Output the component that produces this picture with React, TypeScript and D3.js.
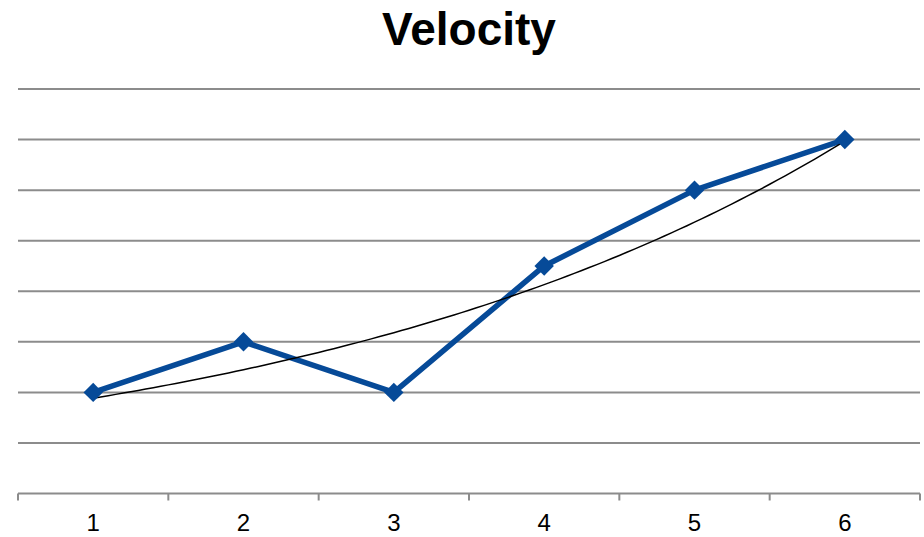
import React, { useRef, useEffect } from 'react';
import * as d3 from 'd3';

const categories = ['1', '2', '3', '4', '5', '6'];
const velocity = [2, 3, 2, 4.5, 6, 7];
const yTicks = [1, 2, 3, 4, 5, 6, 7, 8];

const width = 924;
const height = 537;

// exponential trendline fitted the way the spreadsheet does it (least squares on ln y)
function expTrend(xs: number[], ys: number[]) {
  const ly = ys.map(v => Math.log(v));
  const mx = d3.mean(xs) as number;
  const my = d3.mean(ly) as number;
  const sxy = d3.sum(xs, (x, i) => (x - mx) * (ly[i] - my));
  const sxx = d3.sum(xs, x => (x - mx) * (x - mx));
  const b = sxy / sxx;
  const a = Math.exp(my - b * mx);
  return (x: number) => a * Math.exp(b * x);
}

const App = () => {
  const svgRef = useRef<SVGSVGElement>(null);

  useEffect(() => {
    const svg = d3.select(svgRef.current);
    svg.selectAll('*').remove();

    const left = 18, right = 920, top = 89, bottom = 493.5;

    const x = d3.scaleBand<string>().domain(categories).range([left, right]);
    const y = d3.scaleLinear().domain([0, 8]).range([bottom, top]);
    const cx = (c: string) => (x(c) as number) + x.bandwidth() / 2;

    svg.append('rect').attr('width', width).attr('height', height).attr('fill', 'white');

    // title
    svg.append('text')
      .attr('x', 469)
      .attr('y', 45)
      .attr('text-anchor', 'middle')
      .style('font-family', 'Arial, "Liberation Sans", sans-serif')
      .style('font-size', '46px')
      .style('font-weight', 'bold')
      .style('fill', '#000')
      .text('Velocity');

    // gridlines
    svg.append('g')
      .selectAll('line')
      .data(yTicks)
      .enter()
      .append('line')
      .attr('x1', left)
      .attr('x2', right)
      .attr('y1', d => y(d))
      .attr('y2', d => y(d))
      .style('stroke', '#8c8c8c')
      .style('stroke-width', 2);

    // x axis
    const axis = svg.append('g');
    axis.append('line')
      .attr('x1', left)
      .attr('x2', right)
      .attr('y1', bottom)
      .attr('y2', bottom)
      .style('stroke', '#8c8c8c')
      .style('stroke-width', 2);

    const bounds = categories.map(c => x(c) as number).concat([right]);
    axis.selectAll('.tick')
      .data(bounds)
      .enter()
      .append('line')
      .attr('x1', d => d)
      .attr('x2', d => d)
      .attr('y1', bottom)
      .attr('y2', bottom + 7)
      .style('stroke', '#8c8c8c')
      .style('stroke-width', 2);

    axis.selectAll('text')
      .data(categories)
      .enter()
      .append('text')
      .attr('x', d => cx(d))
      .attr('y', 531)
      .attr('text-anchor', 'middle')
      .style('font-family', 'Arial, "Liberation Sans", sans-serif')
      .style('font-size', '24px')
      .style('fill', '#000')
      .text(d => d);

    // data line
    const pts = categories.map((c, i) => [cx(c), y(velocity[i])] as [number, number]);
    svg.append('path')
      .attr('d', d3.line()(pts))
      .style('fill', 'none')
      .style('stroke', '#064a98')
      .style('stroke-width', 5.5)
      .style('stroke-linejoin', 'round');

    // trendline
    const fit = expTrend(categories.map((_, i) => i + 1), velocity);
    const tx = d3.range(1, 6.001, 0.05);
    const tPts = tx.map(v => {
      const pos = left + (v - 0.5) * x.bandwidth();
      return [pos, y(fit(v))] as [number, number];
    });
    svg.append('path')
      .attr('d', d3.line()(tPts))
      .style('fill', 'none')
      .style('stroke', '#000')
      .style('stroke-width', 1.5);

    // markers
    svg.append('g')
      .selectAll('path')
      .data(pts)
      .enter()
      .append('path')
      .attr('d', d3.symbol().type(d3.symbolDiamond2).size(240)())
      .attr('transform', d => `translate(${d[0]},${d[1]})`)
      .style('fill', '#064a98');
  }, []);

  return (
    <svg
      ref={svgRef}
      width={width}
      height={height}
      style={{ position: 'absolute', left: 0, top: 0 }}
    ></svg>
  );
};

export default App;
